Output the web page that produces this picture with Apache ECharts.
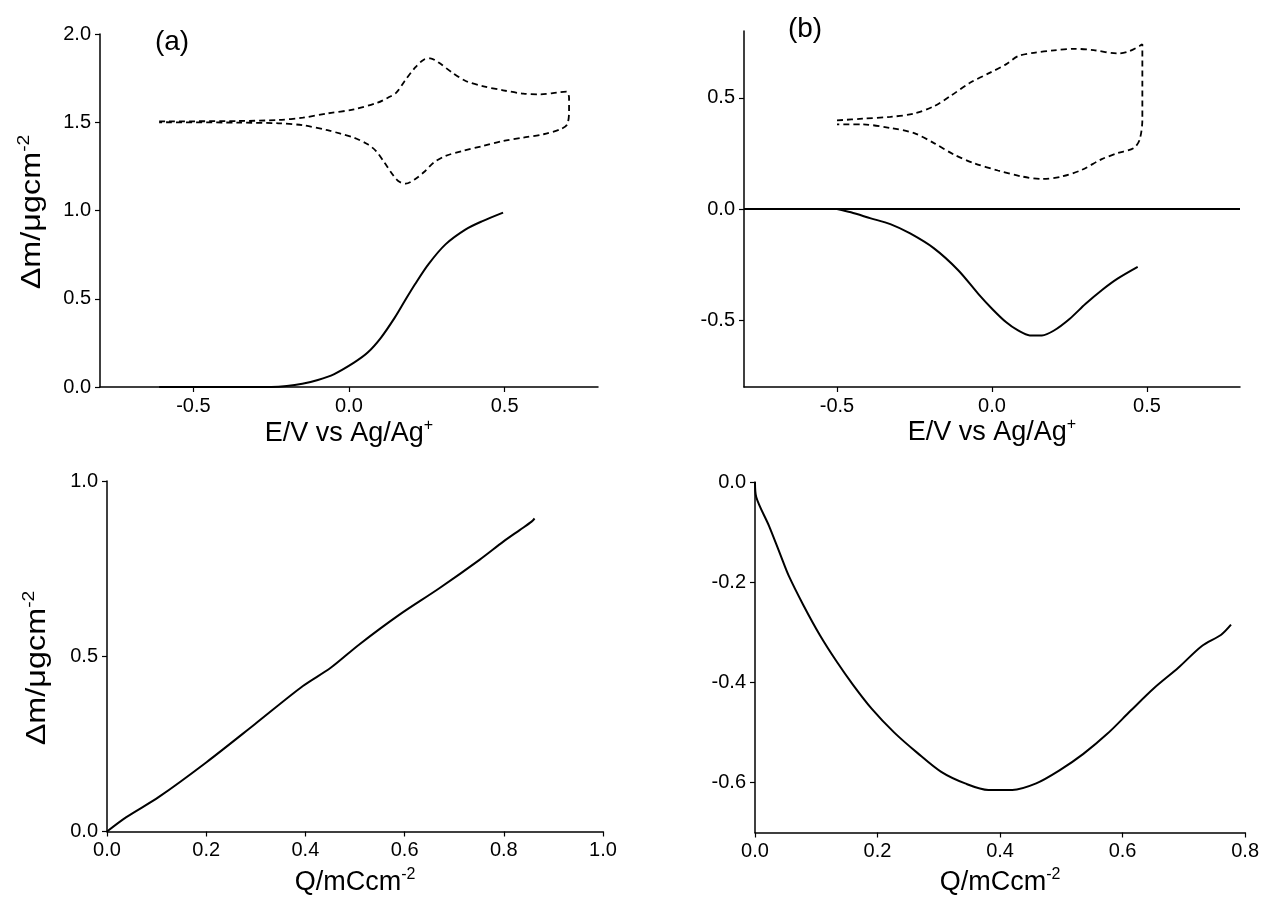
<!DOCTYPE html>
<html>
<head>
<meta charset="utf-8">
<title>Δm vs E and Q</title>
<script src="https://cdn.jsdelivr.net/npm/echarts@6/dist/echarts.min.js"></script>
<style>
  html, body { margin: 0; padding: 0; background: #fff; }
  #chart { width: 1262px; height: 897px; }
</style>
</head>
<body>
<div id="chart"></div>
<script>
// ---- (a) mass change vs potential, and its voltammogram (dashed) ----
const aMassE = [-0.61, -0.4, -0.25, -0.2, -0.15, -0.1, -0.049, 0.016, 0.06, 0.103, 0.147, 0.179, 0.212, 0.255, 0.31, 0.375, 0.429, 0.495];
const aMassM = [0, 0, 0, 0.005, 0.018, 0.04, 0.072, 0.138, 0.195, 0.28, 0.393, 0.487, 0.582, 0.695, 0.808, 0.893, 0.94, 0.988];

const aCvE = [-0.61, -0.357, -0.226, -0.148, -0.069, 0.016, 0.092, 0.125, 0.152, 0.179, 0.212, 0.239, 0.261, 0.288, 0.332, 0.375, 0.429, 0.495, 0.56, 0.614, 0.668, 0.699, 0.707, 0.707, 0.701, 0.679, 0.625, 0.56, 0.495, 0.429, 0.364, 0.31, 0.272, 0.245, 0.212, 0.182, 0.158, 0.136, 0.114, 0.087, 0.06, 0.016, -0.027, -0.069, -0.148, -0.226, -0.357, -0.61];
const aCvM = [1.505, 1.507, 1.513, 1.526, 1.55, 1.573, 1.611, 1.639, 1.668, 1.734, 1.809, 1.853, 1.862, 1.838, 1.781, 1.734, 1.705, 1.681, 1.662, 1.658, 1.668, 1.673, 1.639, 1.563, 1.488, 1.46, 1.432, 1.413, 1.394, 1.365, 1.337, 1.309, 1.271, 1.224, 1.177, 1.152, 1.167, 1.214, 1.271, 1.337, 1.375, 1.413, 1.435, 1.455, 1.483, 1.494, 1.498, 1.5];

// ---- (b) mass change vs potential, and its voltammogram (dashed) ----
const bMassE = [-0.5, -0.455, -0.391, -0.328, -0.264, -0.187, -0.109, -0.045, 0, 0.045, 0.084, 0.122, 0.161, 0.2, 0.251, 0.302, 0.354, 0.405, 0.47];
const bMassM = [0, -0.015, -0.042, -0.068, -0.11, -0.177, -0.275, -0.38, -0.448, -0.508, -0.546, -0.568, -0.568, -0.546, -0.493, -0.426, -0.365, -0.313, -0.26];

const bCvE = [-0.5, -0.418, -0.328, -0.251, -0.187, -0.135, -0.071, -0.006, 0.045, 0.084, 0.135, 0.2, 0.264, 0.328, 0.405, 0.444, 0.485, 0.485, 0.485, 0.476, 0.457, 0.405, 0.354, 0.29, 0.225, 0.161, 0.097, 0.019, -0.058, -0.122, -0.187, -0.251, -0.328, -0.418, -0.5];
const bCvM = [0.398, 0.406, 0.414, 0.429, 0.462, 0.507, 0.567, 0.613, 0.65, 0.687, 0.702, 0.713, 0.72, 0.714, 0.699, 0.71, 0.74, 0.567, 0.401, 0.311, 0.274, 0.251, 0.224, 0.176, 0.146, 0.135, 0.146, 0.173, 0.206, 0.244, 0.296, 0.341, 0.364, 0.38, 0.38];

// ---- (c) mass change vs charge ----
const cQ = [0, 0.039, 0.104, 0.2, 0.298, 0.395, 0.451, 0.508, 0.589, 0.67, 0.751, 0.799, 0.832, 0.856, 0.862];
const cM = [0, 0.041, 0.098, 0.197, 0.306, 0.415, 0.467, 0.533, 0.618, 0.694, 0.775, 0.827, 0.86, 0.884, 0.893];

// ---- (d) mass change vs charge ----
const dQ = [0, 0.002, 0.023, 0.042, 0.055, 0.079, 0.106, 0.133, 0.16, 0.19, 0.227, 0.265, 0.304, 0.343, 0.381, 0.42, 0.459, 0.497, 0.536, 0.575, 0.613, 0.652, 0.691, 0.729, 0.761, 0.777];
const dM = [0, -0.03, -0.088, -0.147, -0.187, -0.246, -0.306, -0.358, -0.405, -0.452, -0.5, -0.541, -0.579, -0.602, -0.615, -0.615, -0.602, -0.576, -0.543, -0.503, -0.457, -0.411, -0.371, -0.328, -0.305, -0.285];

// tick values
const eTicks = [-0.5, 0, 0.5];
const aMassTicks = [0, 0.5, 1.0, 1.5, 2.0];
const bMassTicks = [-0.5, 0, 0.5];
const cMassTicks = [0, 0.5, 1.0];
const dMassTicks = [0, -0.2, -0.4, -0.6];
const cQTicks = [0, 0.2, 0.4, 0.6, 0.8, 1.0];
const dQTicks = [0, 0.2, 0.4, 0.6, 0.8];

const FONT = 'Arial, "Liberation Sans", Helvetica, sans-serif';
const zip = (xs, ys) => xs.map((x, i) => [x, ys[i]]);
const fmt = v => v.toFixed(1);

const nameRich = {
  n: { fontSize: 27, fontFamily: FONT, color: '#000', lineHeight: 32 },
  s: { fontSize: 16, fontFamily: FONT, color: '#000', lineHeight: 16, verticalAlign: 'top' }
};
const E_NAME = '{n|E/V vs Ag/Ag}{s|+}';
const M_NAME = '{n|Δm/μgcm}{s|-2}';
const Q_NAME = '{n|Q/mCcm}{s|-2}';

function axis(opts) {
  return {
    type: 'value',
    min: opts.min, max: opts.max,
    name: opts.name || '',
    nameLocation: 'middle',
    nameGap: opts.nameGap || 30,
    nameTextStyle: { fontFamily: FONT, color: '#000', rich: nameRich },
    axisLine: { show: true, onZero: false, lineStyle: { color: '#000', width: 1.5 } },
    axisTick: { show: true, length: 5, lineStyle: { color: '#000', width: 1.2 }, customValues: opts.ticks },
    axisLabel: { show: true, margin: 9, fontSize: 20, fontFamily: FONT, color: '#000',
                 formatter: fmt, customValues: opts.ticks },
    splitLine: { show: false },
    gridIndex: opts.grid
  };
}

function line(xi, data, dashed) {
  return {
    type: 'line',
    xAxisIndex: xi, yAxisIndex: xi,
    data: data,
    showSymbol: false,
    smooth: 0.3,
    silent: true,
    lineStyle: { color: '#000', width: dashed ? 1.8 : 2, type: dashed ? [6, 4] : 'solid' }
  };
}

// rotated mass-axis title, stretched along its reading direction
function massTitle(x, y) {
  return {
    type: 'text', x: x, y: y, rotation: Math.PI / 2, scaleX: 1.2,
    style: { text: M_NAME, rich: nameRich, align: 'center', verticalAlign: 'middle', fill: '#000' }
  };
}

const chart = echarts.init(document.getElementById('chart'), null, { renderer: 'canvas' });
chart.setOption({
  backgroundColor: '#fff',
  animation: false,
  grid: [
    { left: 100, top: 34, width: 498, height: 353 },
    { left: 744, top: 31, width: 496, height: 356 },
    { left: 107, top: 481, width: 496, height: 353 },
    { left: 755, top: 482, width: 497, height: 355 }
  ],
  xAxis: [
    axis({ grid: 0, min: -0.8, max: 0.8, ticks: eTicks, name: E_NAME, nameGap: 31 }),
    axis({ grid: 1, min: -0.8, max: 0.8, ticks: eTicks, name: E_NAME, nameGap: 29 }),
    axis({ grid: 2, min: 0, max: 1.0, ticks: cQTicks, name: Q_NAME, nameGap: 35 }),
    axis({ grid: 3, min: 0, max: 0.8, ticks: dQTicks, name: Q_NAME, nameGap: 34 })
  ],
  yAxis: [
    axis({ grid: 0, min: 0, max: 2.0, ticks: aMassTicks }),
    axis({ grid: 1, min: -0.8, max: 0.8, ticks: bMassTicks }),
    axis({ grid: 2, min: 0, max: 1.0, ticks: cMassTicks }),
    axis({ grid: 3, min: -0.7, max: 0, ticks: dMassTicks })
  ],
  graphic: [
    massTitle(33, 212),
    massTitle(38, 668),
    { type: 'text', x: 172, y: 42, style: { text: '(a)', font: '28px ' + FONT, fill: '#000', align: 'center', verticalAlign: 'middle' } },
    { type: 'text', x: 805, y: 29, style: { text: '(b)', font: '28px ' + FONT, fill: '#000', align: 'center', verticalAlign: 'middle' } }
  ],
  series: [
    line(0, zip(aMassE, aMassM), false),
    line(0, zip(aCvE, aCvM), true),
    Object.assign(line(1, zip(bMassE, bMassM), false), {
      markLine: {
        silent: true, symbol: 'none', label: { show: false },
        lineStyle: { color: '#000', type: 'solid', width: 1.8 },
        data: [{ yAxis: 0 }]
      }
    }),
    line(1, zip(bCvE, bCvM), true),
    line(2, zip(cQ, cM), false),
    line(3, zip(dQ, dM), false)
  ]
});
</script>
</body>
</html>
